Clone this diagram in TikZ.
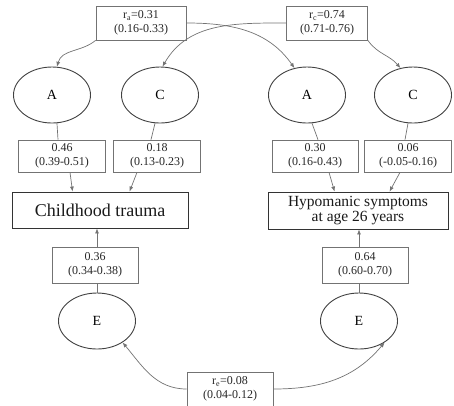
\documentclass[tikz,border=0pt]{standalone}
\usepackage{fontspec}
\setmainfont{Liberation Serif}
\usetikzlibrary{shapes.geometric,arrows.meta}
\tikzset{
  latent/.style={ellipse, draw=black!75, line width=0.9pt, minimum width=77pt, minimum height=56pt, font=\fontsize{14}{16}\selectfont},
  est/.style={rectangle, draw=black!55, line width=0.7pt, align=center, inner sep=0pt, font=\fontsize{12}{13.5}\selectfont, text=black!85},
  pheno/.style={rectangle, draw=black!80, line width=0.9pt, align=center, inner sep=0pt, text=black!90},
  link/.style={draw=black!55, line width=0.7pt},
  path/.style={link, -{Latex[length=5pt,width=4pt]}}
}
\begin{document}
\begin{tikzpicture}[x=1pt,y=-1pt]
\useasboundingbox (0,0) rectangle (454,405);
%%% correlations on top
\node[est, minimum width=90pt, minimum height=34pt] (ra) at (141,23) {r\textsubscript{a}=0.31\\(0.16-0.33)};
\node[est, minimum width=81pt, minimum height=34pt] (rc) at (327,23) {r\textsubscript{c}=0.74\\(0.71-0.76)};
%%% latent factors
\node[latent] (Al) at (52,95) {A};
\node[latent] (Cl) at (160,95) {C};
\node[latent] (Ar) at (307,95) {A};
\node[latent] (Cr) at (413,95) {C};
%%% path estimates
\node[est, minimum width=87pt, minimum height=32pt] (al) at (62,156) {0.46\\(0.39-0.51)};
\node[est, minimum width=87pt, minimum height=32pt] (cl) at (157,156) {0.18\\(0.13-0.23)};
\node[est, minimum width=86pt, minimum height=32pt] (ar) at (315,156) {0.30\\(0.16-0.43)};
\node[est, minimum width=87pt, minimum height=32pt] (cr) at (408,156) {0.06\\(-0.05-0.16)};
%%% phenotypes
\node[pheno, minimum width=176pt, minimum height=36pt, font=\fontsize{18}{19}\selectfont] (ct) at (100,210) {Childhood trauma};
\node[pheno, minimum width=180pt, minimum height=37pt, font=\fontsize{15.5}{15}\selectfont] (hs) at (358,210.5) {Hypomanic symptoms\\at age 26 years};
%%%%%%%%%%
\node[est, minimum width=86pt, minimum height=36pt] (el) at (95,265) {0.36\\(0.34-0.38)};
\node[est, minimum width=86pt, minimum height=36pt] (er) at (365,265) {0.64\\(0.60-0.70)};
\node[latent] (El) at (97,321) {E};
\node[latent] (Er) at (359,321) {E};
\node[est, minimum width=86pt, minimum height=34pt] (re) at (230,389) {r\textsubscript{e}=0.08\\(0.04-0.12)};
%%% connectors
\draw[path] (ra.south west) to[out=220,in=75] (Al.80);
\draw[path] (ra.east) to[out=0,in=125] (Ar.115);
\draw[path] (rc.west) to[out=180,in=60] (Cl.85);
\draw[path] (rc.south east) to[out=-55,in=130] (Cr.115);
%%%
\draw[link] (Al.-80) -- ([xshift=-4pt]al.north);
\draw[link] (Cl.-100) -- ([xshift=-6pt]cl.north);
\draw[link] (Ar.-80) -- ([xshift=3pt]ar.north);
\draw[link] (Cr.-100) -- ([xshift=-3pt]cr.north);
%%%
\draw[path] ([xshift=8pt]al.south) -- ([xshift=61pt]ct.north west);
\draw[path] ([xshift=-20pt]cl.south) -- ([xshift=118pt]ct.north west);
\draw[path] ([xshift=14pt]ar.south) -- ([xshift=67pt]hs.north west);
\draw[path] ([xshift=-8pt]cr.south) -- ([xshift=122pt]hs.north west);
%%%
\draw[link] (El.north) -- (El.north |- el.south);
\draw[path] (El.north |- el.north) -- (El.north |- ct.south);
\draw[link] (Er.north) -- (Er.north |- er.south);
\draw[path] (Er.north |- er.north) -- (Er.north |- hs.south);
%%%
\draw[path] (re.west) to[out=180,in=-50] (El.-40);
\draw[path] (re.east) to[out=0,in=-130] (Er.-40);
\end{tikzpicture}
\end{document}
